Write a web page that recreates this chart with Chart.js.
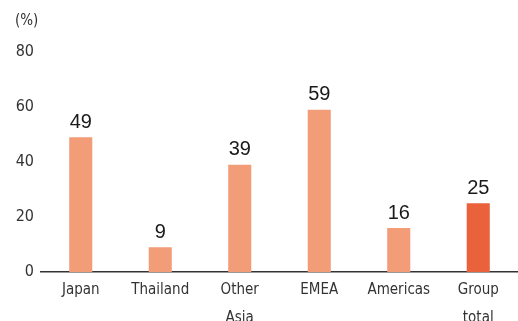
<!DOCTYPE html>
<html>
<head>
<meta charset="utf-8">
<script src="https://cdn.jsdelivr.net/npm/chart.js@4/dist/chart.umd.min.js"></script>
<style>
  html, body { margin: 0; padding: 0; background: #fff; }
</style>
</head>
<body>
<canvas id="chart" width="518" height="321"></canvas>
<script>
const regions = [["Japan"], ["Thailand"], ["Other", "Asia"], ["EMEA"], ["Americas"], ["Group", "total"]];
const shares = [49, 9, 39, 59, 16, 25];
const barColors = ["#F39C78", "#F39C78", "#F39C78", "#F39C78", "#F39C78", "#E9623C"];
const yTicks = [0, 20, 40, 60, 80];

const narrow = "'DejaVu Sans Condensed', 'Liberation Sans Narrow', 'Liberation Sans', sans-serif";

// numbers above each bar plus the unit marker at the top left
const barValues = {
  id: "barValues",
  afterDatasetsDraw(chart) {
    const ctx = chart.ctx;
    const meta = chart.getDatasetMeta(0);
    ctx.save();
    ctx.fillStyle = "#1a1a1a";
    ctx.font = "20px 'Liberation Sans', Arial, sans-serif";
    ctx.textAlign = "center";
    ctx.textBaseline = "bottom";
    meta.data.forEach((bar, i) => {
      ctx.fillText(String(shares[i]), bar.x, bar.y - 5);
    });
    ctx.font = "15px " + narrow;
    ctx.fillStyle = "#333";
    ctx.textAlign = "left";
    ctx.textBaseline = "middle";
    ctx.fillText("(%)", 15, 21);
    ctx.restore();
  }
};

new Chart(document.getElementById("chart"), {
  type: "bar",
  data: {
    labels: regions,
    datasets: [{
      data: shares,
      backgroundColor: barColors,
      barPercentage: 0.29,
      categoryPercentage: 1
    }]
  },
  options: {
    responsive: false,
    animation: false,
    layout: { padding: { top: 52, right: 0, bottom: 0, left: 0 } },
    plugins: { legend: { display: false }, tooltip: { enabled: false } },
    scales: {
      x: {
        grid: { display: false, drawTicks: false },
        border: { display: true, color: "#333", width: 1.5 },
        ticks: {
          color: "#333",
          padding: 4,
          font: { family: narrow, size: 15, lineHeight: 28 / 15 },
          maxRotation: 0,
          autoSkip: false
        },
        afterFit(scale) { scale.height = 49; }
      },
      y: {
        min: 0,
        max: 80,
        grid: { display: false, drawTicks: false },
        border: { display: false },
        afterBuildTicks(scale) { scale.ticks = yTicks.map(v => ({ value: v })); },
        ticks: {
          color: "#333",
          padding: 7,
          font: { family: narrow, size: 16 }
        },
        afterFit(scale) { scale.width = 41; }
      }
    }
  },
  plugins: [barValues]
});
</script>
</body>
</html>
